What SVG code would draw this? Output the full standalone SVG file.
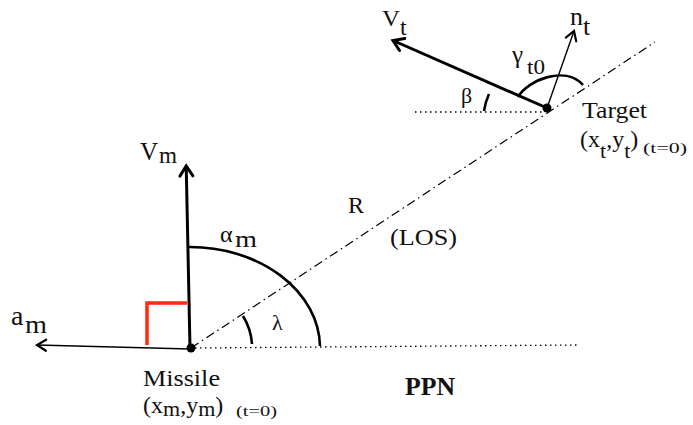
<svg xmlns="http://www.w3.org/2000/svg" width="693" height="425" viewBox="0 0 693 425">
<style>
text{font-family:"Liberation Serif","Times New Roman",serif;fill:#111}
.thick{stroke:#000;stroke-width:3;fill:none}
.thin{stroke:#000;stroke-width:1.4;fill:none}
.dot{stroke:#000;stroke-width:1.3;stroke-dasharray:1.5 3.5;fill:none}
.los{stroke:#000;stroke-width:1.2;stroke-dasharray:9 4 1.5 4;fill:none}
.arc{stroke:#000;stroke-width:2.6;fill:none}
</style>
<defs>
<marker id="hThick" markerUnits="userSpaceOnUse" viewBox="-14 -10 20 20" refX="0" refY="0" markerWidth="20" markerHeight="20" orient="auto" overflow="visible">
<path d="M-10,-6.5 L0,0 L-10,6.5" stroke="#000" stroke-width="3" fill="none" stroke-linecap="round" stroke-linejoin="miter"/>
</marker>
<marker id="hThin" markerUnits="userSpaceOnUse" viewBox="-14 -10 20 20" refX="0" refY="0" markerWidth="20" markerHeight="20" orient="auto" overflow="visible">
<path d="M-9,-5.5 L0,0 L-9,5.5" stroke="#000" stroke-width="2.2" fill="none" stroke-linecap="round"/>
</marker>
</defs>
<g id="connectors">
<line class="los" x1="191" y1="348" x2="655" y2="42"/>
<line class="dot" x1="195" y1="348" x2="578" y2="345"/>
<line class="dot" x1="415" y1="112" x2="545" y2="112"/>
<line class="thick" x1="190" y1="348" x2="186.2" y2="166" marker-end="url(#hThick)"/>
<line class="thin" x1="190" y1="349" x2="37" y2="345" marker-end="url(#hThin)"/>
<line class="thick" x1="547" y1="108" x2="393" y2="40.5" marker-end="url(#hThick)"/>
<line class="thin" x1="547" y1="108" x2="574" y2="31" marker-end="url(#hThin)"/>
<polyline points="147,345 147,303 187,303" stroke="#ff2a10" stroke-width="3.5" fill="none"/>
<path class="arc" d="M189,247 A130,101 0 0 1 320,346"/>
<path class="arc" d="M252,344 A61,61 0 0 0 243,316"/>
<path class="arc" d="M484,111 A63,63 0 0 1 489,94"/>
<path class="arc" d="M518,97 C528,80 565,65 583,85"/>
</g>
<g id="missile">
<circle cx="191" cy="348" r="4.5" fill="#000"/>
<text x="143" y="386" font-size="24" textLength="77" lengthAdjust="spacingAndGlyphs">Missile</text>
<text y="413" font-size="24"><tspan x="143">(x</tspan><tspan font-size="22" dy="3">m</tspan><tspan font-size="24" dy="-3">,y</tspan><tspan font-size="22" dy="3">m</tspan><tspan font-size="24" dy="-3">)</tspan></text>
<text x="236" y="416" font-size="15" textLength="41" lengthAdjust="spacingAndGlyphs">(t=0)</text>
</g>
<g id="target">
<circle cx="547" cy="108" r="4.5" fill="#000"/>
<text x="582" y="118" font-size="24" textLength="65" lengthAdjust="spacingAndGlyphs">Target</text>
<text y="147" font-size="24"><tspan x="580">(x</tspan><tspan dy="11" font-size="22">t</tspan><tspan dy="-11">,y</tspan><tspan dy="11" font-size="22">t</tspan><tspan dy="-11">)</tspan></text>
<text x="643" y="153" font-size="15" textLength="44" lengthAdjust="spacingAndGlyphs">(t=0)</text>
</g>
<g id="vm-label">
<text x="140" y="160" font-size="25">V</text>
<text x="159" y="163" font-size="24" textLength="18" lengthAdjust="spacingAndGlyphs">m</text>
</g>
<g id="am-label">
<text x="11" y="325" font-size="28">a</text>
<text x="25" y="333" font-size="26" textLength="22" lengthAdjust="spacingAndGlyphs">m</text>
</g>
<g id="vt-label">
<text x="382" y="26" font-size="24" textLength="18" lengthAdjust="spacingAndGlyphs">V</text>
<text x="400" y="35" font-size="24">t</text>
</g>
<g id="nt-label">
<text x="570" y="25" font-size="26">n</text>
<text x="583" y="35" font-size="26">t</text>
</g>
<g id="gamma-label">
<text x="512" y="63" font-size="25">γ</text>
<text x="527" y="74" font-size="20" textLength="18" lengthAdjust="spacingAndGlyphs">t0</text>
</g>
<g id="beta-label"><text x="461" y="103" font-size="22">β</text></g>
<g id="alpha-label">
<text x="220" y="242" font-size="24">α</text>
<text x="235" y="247" font-size="24" textLength="22" lengthAdjust="spacingAndGlyphs">m</text>
</g>
<g id="lambda-label"><text x="272" y="330" font-size="22">λ</text></g>
<g id="r-label"><text x="348" y="213" font-size="24">R</text></g>
<g id="los-label"><text x="390" y="245" font-size="24" textLength="67" lengthAdjust="spacingAndGlyphs">(LOS)</text></g>
<g id="ppn-label"><text x="405" y="395" font-size="25" font-weight="bold" textLength="50" lengthAdjust="spacingAndGlyphs">PPN</text></g>
</svg>
